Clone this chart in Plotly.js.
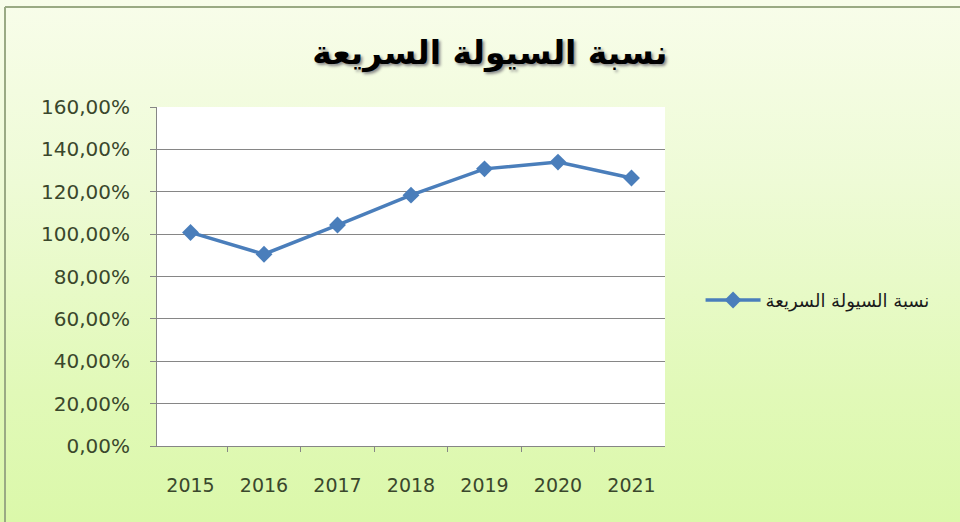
<!DOCTYPE html>
<html>
<head>
<meta charset="utf-8">
<script src="https://cdn.plot.ly/plotly-3.0.1.min.js"></script>
<style>
  html, body { margin: 0; padding: 0; }
  #chart { width: 960px; height: 522px; background: linear-gradient(to bottom, #f8fdea 0%, #eefbd6 35%, #e1f9b8 75%, #dbf8aa 100%); }
</style>
</head>
<body>
<div id="chart"></div>
<script>
const titleText = "نسبة السيولة السريعة";
const seriesName = "نسبة السيولة السريعة";
const years = ["2015", "2016", "2017", "2018", "2019", "2020", "2021"];
const quickRatio = [100.8, 90.5, 104.3, 118.4, 130.8, 134.0, 126.5];
const yTicks = [0, 20, 40, 60, 80, 100, 120, 140, 160];
const yTickLabels = ["0,00%", "20,00%", "40,00%", "60,00%", "80,00%", "100,00%", "120,00%", "140,00%", "160,00%"];

const trace = {
  type: "scatter",
  mode: "lines+markers",
  x: years,
  y: quickRatio,
  name: seriesName,
  line: { color: "#4a7ebb", width: 3.5 },
  marker: { symbol: "diamond", size: 13, color: "#4a7ebb" },
  hoverinfo: "x+y"
};

const layout = {
  width: 960,
  height: 522,
  paper_bgcolor: "rgba(0,0,0,0)",
  plot_bgcolor: "#ffffff",
  margin: { l: 157, r: 295, t: 107, b: 76 },
  title: {
    text: "<b>" + titleText + "</b>",
    x: 0.655, xref: "paper", xanchor: "center",
    y: 0.9, yref: "container", yanchor: "middle",
    font: { family: "DejaVu Sans", size: 33, color: "#000000", shadow: "2px 2px 3px #8a8a8a" }
  },
  xaxis: {
    type: "category",
    tickson: "boundaries",
    ticks: "outside",
    ticklen: 5,
    tickcolor: "#868686",
    showline: true,
    linecolor: "#868686",
    linewidth: 1,
    showgrid: false,
    tickfont: { family: "DejaVu Sans", size: 19, color: "#3a472c" },
    ticklabelstandoff: 22
  },
  yaxis: {
    range: [0, 160],
    tickvals: yTicks,
    ticktext: yTickLabels,
    ticks: "outside",
    ticklen: 6,
    tickcolor: "#868686",
    showline: true,
    linecolor: "#868686",
    linewidth: 1,
    showgrid: true,
    gridcolor: "#868686",
    gridwidth: 1,
    zeroline: false,
    tickfont: { family: "DejaVu Sans", size: 20, color: "#3a472c" },
    ticklabelstandoff: 16
  },
  showlegend: true,
  legend: {
    x: 1.07, xanchor: "left",
    y: 0.43, yanchor: "middle",
    itemwidth: 55,
    bgcolor: "rgba(0,0,0,0)",
    font: { family: "DejaVu Sans", size: 18, color: "#1a1a1a" }
  },
  shapes: [
    { type: "line", xref: "paper", yref: "paper", x0: -0.2992, x1: -0.2992, y0: 1.295, y1: -0.3, line: { color: "#9aaa84", width: 2 } },
    { type: "line", xref: "paper", yref: "paper", x0: -0.2992, x1: 1.6, y0: 1.295, y1: 1.295, line: { color: "#9aaa84", width: 2 } }
  ]
};

Plotly.newPlot("chart", [trace], layout, { displayModeBar: false, staticPlot: true });
</script>
</body>
</html>
